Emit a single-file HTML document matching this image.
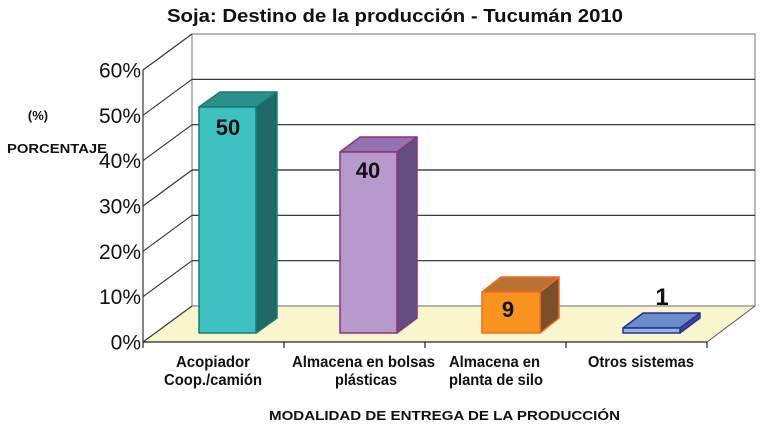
<!DOCTYPE html>
<html><head><meta charset="utf-8"><style>
html,body{margin:0;padding:0;background:#fff;}
svg{display:block;}
text{font-family:"Liberation Sans",Arial,sans-serif;fill:#111;}
</style></head><body>
<svg width="760" height="428" viewBox="0 0 760 428" xmlns="http://www.w3.org/2000/svg">
<!-- title -->
<text x="395" y="22" text-anchor="middle" font-size="18" font-weight="bold" textLength="456" lengthAdjust="spacingAndGlyphs">Soja: Destino de la producción  - Tucumán 2010</text>

<!-- back wall -->
<rect x="192" y="34" width="563" height="272" fill="#fff" stroke="#8a8a8a" stroke-width="1.2"/>
<!-- back gridlines -->
<g stroke="#222" stroke-width="1.2">
<line x1="192" y1="79.3" x2="755" y2="79.3"/>
<line x1="192" y1="124.7" x2="755" y2="124.7"/>
<line x1="192" y1="170" x2="755" y2="170"/>
<line x1="192" y1="215.3" x2="755" y2="215.3"/>
<line x1="192" y1="260.7" x2="755" y2="260.7"/>
</g>
<!-- floor -->
<polygon points="143,342 707,342 755,306 192,306" fill="#f9f5cc" stroke="none"/>
<line x1="192" y1="306" x2="755" y2="306" stroke="#777" stroke-width="1"/>
<line x1="143" y1="342" x2="707" y2="342" stroke="#222" stroke-width="1.2"/>
<line x1="707" y1="342" x2="755" y2="306" stroke="#555" stroke-width="1"/>
<!-- x ticks -->
<g stroke="#222" stroke-width="1.2">
<line x1="143" y1="342" x2="143" y2="348"/>
<line x1="284" y1="342" x2="284" y2="348"/>
<line x1="425" y1="342" x2="425" y2="348"/>
<line x1="566" y1="342" x2="566" y2="348"/>
<line x1="707" y1="342" x2="707" y2="348"/>
</g>
<!-- left wall diagonals -->
<g stroke="#333" stroke-width="1.1">
<line x1="143" y1="342" x2="192" y2="306"/>
<line x1="143" y1="296.7" x2="192" y2="260.7"/>
<line x1="143" y1="251.3" x2="192" y2="215.3"/>
<line x1="143" y1="206" x2="192" y2="170"/>
<line x1="143" y1="160.7" x2="192" y2="124.7"/>
<line x1="143" y1="115.3" x2="192" y2="79.3"/>
<line x1="143" y1="70" x2="192" y2="34"/>
</g>
<line x1="143" y1="70" x2="143" y2="342" stroke="#333" stroke-width="1.2"/>

<!-- y tick labels -->
<g font-size="21" text-anchor="end">
<text x="141" y="349.5">0%</text>
<text x="141" y="304.2">10%</text>
<text x="141" y="258.8">20%</text>
<text x="141" y="213.5">30%</text>
<text x="141" y="168.2">40%</text>
<text x="141" y="122.8">50%</text>
<text x="141" y="77.5">60%</text>
</g>

<!-- y axis title -->
<text x="38" y="120" text-anchor="middle" font-size="13" font-weight="bold">(%)</text>
<text x="7" y="153" font-size="13" font-weight="bold" textLength="100" lengthAdjust="spacingAndGlyphs">PORCENTAJE</text>

<!-- Bar 1 teal -->
<g stroke="#177a74" stroke-width="1.5" stroke-linejoin="round">
<polygon points="256,107 277,92 277,318 256,333" fill="#1f6a67"/>
<polygon points="199,107 256,107 277,92 220,92" fill="#2d8f8a"/>
<rect x="199" y="107" width="57" height="226" fill="#3fc1c1"/>
</g>
<!-- Bar 2 purple -->
<g stroke="#93307a" stroke-width="1.5" stroke-linejoin="round">
<polygon points="397,152 417,137 417,318 397,333" fill="#644c80"/>
<polygon points="340,152 397,152 417,137 360,137" fill="#9273b2"/>
<rect x="340" y="152" width="57" height="181" fill="#b59acb"/>
</g>
<!-- Bar 3 orange -->
<g stroke="#f26b22" stroke-width="1.5" stroke-linejoin="round">
<polygon points="540,292 559,277 559,318 540,333" fill="#7a5028"/>
<polygon points="482,292 540,292 559,277 501,277" fill="#b87332"/>
<rect x="482" y="292" width="58" height="41" fill="#f7931e"/>
</g>
<!-- Bar 4 blue -->
<g stroke="#2b2f8a" stroke-width="1.5" stroke-linejoin="round">
<polygon points="680,328 700,313 700,318 680,333" fill="#3b4a9a"/>
<polygon points="623,328 680,328 700,313 643,313" fill="#6a8ccb"/>
<rect x="623" y="328" width="57" height="5" fill="#8fb4e8"/>
</g>

<!-- value labels -->
<g font-size="22" font-weight="bold" text-anchor="middle">
<text x="228" y="135">50</text>
<text x="368" y="178">40</text>
<text x="508" y="317">9</text>
<text x="662" y="305" font-size="24">1</text>
</g>

<!-- category labels -->
<g font-size="16" font-weight="bold" text-anchor="middle">
<text x="213" y="367" textLength="74" lengthAdjust="spacingAndGlyphs">Acopiador</text>
<text x="213" y="385" textLength="98" lengthAdjust="spacingAndGlyphs">Coop./camión</text>
<text x="363.5" y="367" textLength="143" lengthAdjust="spacingAndGlyphs">Almacena en bolsas</text>
<text x="366" y="385" textLength="62" lengthAdjust="spacingAndGlyphs">plásticas</text>
<text x="494.5" y="367" textLength="91" lengthAdjust="spacingAndGlyphs">Almacena en</text>
<text x="496" y="385" textLength="94" lengthAdjust="spacingAndGlyphs">planta de silo</text>
<text x="641" y="367" textLength="106" lengthAdjust="spacingAndGlyphs">Otros sistemas</text>
</g>

<!-- x axis title -->
<text x="269" y="420" font-size="13" font-weight="bold" textLength="351" lengthAdjust="spacingAndGlyphs">MODALIDAD DE ENTREGA DE LA PRODUCCIÓN</text>
</svg>
</body></html>
